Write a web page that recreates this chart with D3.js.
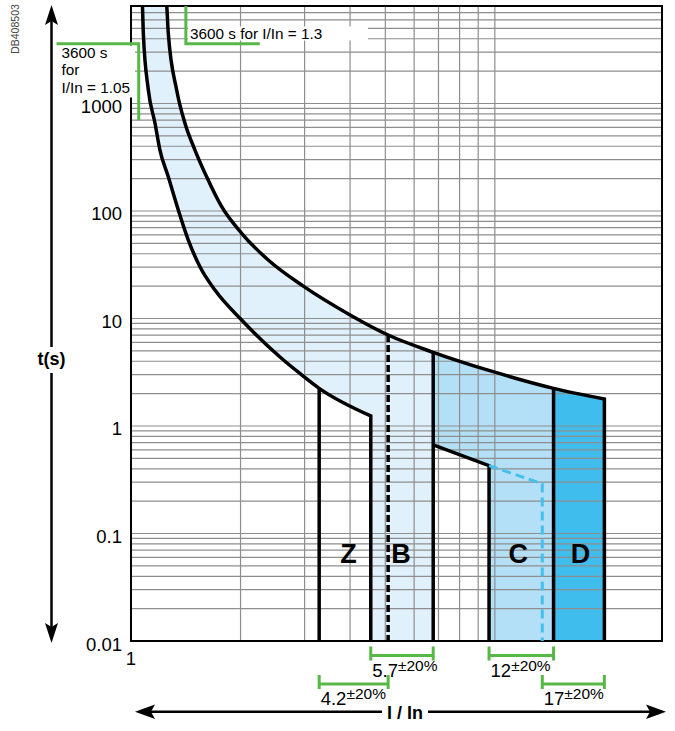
<!DOCTYPE html>
<html><head><meta charset="utf-8">
<script src="https://cdn.jsdelivr.net/npm/d3@7"></script>
<style>
body{margin:0;background:#fff}
svg{display:block}
text{font-family:"Liberation Sans",Arial,Helvetica,sans-serif}
</style>
</head><body>
<svg id="c" width="675" height="731"></svg>
<script>
// ---------------- data ----------------
// thermal zone: upper and lower envelope, I/In vs t(s)
const upperI = [1.245, 1.254, 1.266, 1.335, 1.407, 1.499, 1.614, 1.775, 2.014, 2.383, 2.975, 4.0, 5.09, 6.77, 9.89, 14.5, 20.0];
const upperT = [10000, 8070, 4530, 1336, 655, 369, 208, 109.6, 62.0, 35.0, 20.0, 10.8, 7.02, 4.85, 3.20, 2.24, 1.78];
const lowerI = [1.073, 1.081, 1.116, 1.164, 1.201, 1.266, 1.349, 1.437, 1.547, 1.701, 2.014, 2.567, 2.912, 3.29, 4.56];
const lowerT = [10000, 4530, 1336, 655, 369, 208, 102, 53.7, 30.3, 18.4, 9.68, 4.385, 3.08, 2.24, 1.24];

// magnetic trip curves
const curveNames   = ["Z", "B", "C", "D"];
const curveNominal = ["4.2", "5.7", "12", "17"];
const curveLow     = [3.29, 4.56, 9.64, 13.5];
const curveHigh    = [5.09, 6.77, 14.5, 20.0];
const curveRow     = [2, 1, 1, 2];
const labelI       = [3.96, 5.52, 11.6, 17.2];
const labelT       = 0.066;
const tolerance    = "±20%";

// lower boundary of C zone and dashed D lower boundary
const cLowerI = [6.77, 9.64];
const cLowerT = [0.666, 0.428];
const dDashI  = [9.64, 13.5, 13.5];
const dDashT  = [0.428, 0.29, 0.01];

// axes
const yTickValues = [0.01, 0.1, 1, 10, 100, 1000];
const yTickLabels = ["0.01", "0.1", "1", "10", "100", "1000"];
const xTickValues = [1];
const xTickLabels = ["1"];
const xGridValues = [2, 3, 4, 5, 6, 7, 8, 9, 10];
const xDomain = [1, 28.8];
const yDomain = [0.01, 8070];

// annotations
const annotT = 3600;
const annotLeftI = 1.05, annotLeftEndT = 700;
const annotTopI = 1.415, annotTopEndI = 2.26;
const annotTopText = "3600 s for I/In = 1.3";
const annotLeftText = ["3600 s", "for", "I/In = 1.05"];

// ---------------- drawing ----------------
const svg = d3.select("#c");
svg.append("rect").attr("width", 675).attr("height", 731).attr("fill", "#fff");

const x = d3.scaleLog().domain(xDomain).range([131, 662]);
const y = d3.scaleLog().domain(yDomain).range([641, 6]);
const X0 = x.range()[0], X1 = x.range()[1];
const YB = y.range()[0], YT = y.range()[1];
const tTop = yDomain[1], tBot = yDomain[0];

const LIGHT = "#e1f1fc", MID = "#b3e0f7", DARK = "#3fbdec", BLUEDASH = "#45bfee";
const GREEN = "#58b847", GRID = "#8e8e8e";

const upper = upperI.map((v, i) => [v, upperT[i]]);
const lower = lowerI.map((v, i) => [v, lowerT[i]]);
const tOn = (arr, v) => arr.find(d => Math.abs(d[0] - v) < 1e-9)[1];

const line = d3.line().x(d => x(d[0])).y(d => y(d[1])).curve(d3.curveMonotoneX);
const lineS = d3.line().x(d => x(d[0])).y(d => y(d[1]));

const defs = svg.append("defs");
defs.append("clipPath").attr("id", "plot").append("rect")
  .attr("x", X0).attr("y", YT).attr("width", X1 - X0).attr("height", YB - YT);
const upEnd = upper[upper.length - 1], loEnd = lower[lower.length - 1];
defs.append("clipPath").attr("id", "underUpper").append("path")
  .attr("d", line(upper) + `L${x(upEnd[0])},${YB + 10}L${X0 - 10},${YB + 10}L${X0 - 10},${YT - 40}Z`);
defs.append("clipPath").attr("id", "aboveLower").append("path")
  .attr("d", line(lower) + `L${x(loEnd[0])},${YB + 10}L${X1 + 10},${YB + 10}L${X1 + 10},${YT - 40}Z`);

// fills
const fillG = svg.append("g").attr("clip-path", "url(#plot)");
fillG.append("g").attr("clip-path", "url(#underUpper)")
  .append("g").attr("clip-path", "url(#aboveLower)")
  .append("path").attr("fill", LIGHT)
  .attr("d", lineS([[xDomain[0], tTop], [curveHigh[1], tTop], [curveHigh[1], tBot], [xDomain[0], tBot]]) + "Z");
const underU = fillG.append("g").attr("clip-path", "url(#underUpper)");
underU.append("path").attr("fill", MID)
  .attr("d", lineS([[curveHigh[1], tTop], [curveHigh[2], tTop], [curveHigh[2], tBot], [cLowerI[1], tBot],
                    [cLowerI[1], cLowerT[1]], [cLowerI[0], cLowerT[0]]]) + "Z");
underU.append("path").attr("fill", DARK)
  .attr("d", lineS([[curveHigh[2], tTop], [curveHigh[3], tTop], [curveHigh[3], tBot], [curveHigh[2], tBot]]) + "Z");

// grid
const gridG = svg.append("g").attr("clip-path", "url(#plot)").attr("stroke", GRID).attr("stroke-width", 1.2);
gridG.selectAll("line.h").data(y.ticks()).join("line").attr("class", "h")
  .attr("x1", X0).attr("x2", X1).attr("y1", d => y(d)).attr("y2", d => y(d));
gridG.selectAll("line.v").data(xGridValues).join("line").attr("class", "v")
  .attr("x1", d => x(d)).attr("x2", d => x(d)).attr("y1", YT).attr("y2", YB);

// frame
svg.append("rect").attr("x", X0).attr("y", YT).attr("width", X1 - X0).attr("height", YB - YT)
  .attr("fill", "none").attr("stroke", "#000").attr("stroke-width", 2);

// white label boxes
svg.append("rect").attr("x", 188).attr("y", 26.5).attr("width", 180).attr("height", 14).attr("fill", "#fff");
svg.append("rect").attr("x", 57).attr("y", 45.5).attr("width", 78).attr("height", 52).attr("fill", "#fff");

// curves
const curveG = svg.append("g").attr("clip-path", "url(#plot)").attr("fill", "none")
  .attr("stroke", "#000").attr("stroke-width", 3.5).attr("stroke-linejoin", "miter");
curveG.append("path").attr("d", line(upper) + `L${x(upEnd[0])},${y(tBot)}`);
curveG.append("path").attr("d", line(lower) + `L${x(loEnd[0])},${y(tBot)}`);
const vlines = [
  { i: curveLow[0],  t: tOn(lower, curveLow[0]) },
  { i: curveHigh[0], t: tOn(upper, curveHigh[0]), dash: "7,3" },
  { i: curveHigh[1], t: tOn(upper, curveHigh[1]) },
  { i: curveHigh[2], t: tOn(upper, curveHigh[2]) }
];
curveG.selectAll("line.vl").data(vlines).join("line").attr("class", "vl")
  .attr("x1", d => x(d.i)).attr("x2", d => x(d.i)).attr("y1", d => y(d.t)).attr("y2", y(tBot))
  .attr("stroke-dasharray", d => d.dash || null);
curveG.append("path").attr("d", lineS(cLowerI.map((v, i) => [v, cLowerT[i]])) + `L${x(cLowerI[1])},${y(tBot)}`);
curveG.append("path").attr("d", lineS(dDashI.map((v, i) => [v, dDashT[i]])))
  .attr("stroke", BLUEDASH).attr("stroke-width", 3).attr("stroke-dasharray", "9,5");

// zone letters
svg.append("g").selectAll("text").data(curveNames).join("text")
  .attr("x", (d, i) => x(labelI[i])).attr("y", y(labelT)).attr("dy", "0.36em")
  .attr("text-anchor", "middle").attr("font-weight", "bold").attr("font-size", 27).text(d => d);

// annotations (green)
const annG = svg.append("g").attr("fill", "none").attr("stroke", GREEN).attr("stroke-width", 3);
annG.append("path").attr("d", `M56.5,${y(annotT)}L${x(annotLeftI)},${y(annotT)}L${x(annotLeftI)},${y(annotLeftEndT)}`);
annG.append("path").attr("d", `M${x(annotTopI)},${YT}L${x(annotTopI)},${y(annotT)}L${x(annotTopEndI)},${y(annotT)}`);
svg.append("text").attr("x", 190).attr("y", 38.5).attr("font-size", 15.3).text(annotTopText);
svg.append("g").selectAll("text").data(annotLeftText).join("text")
  .attr("x", 61.5).attr("y", (d, i) => 58 + i * 17.3).attr("font-size", 15.3).text(d => d);

// y tick labels
svg.append("g").selectAll("text").data(yTickValues).join("text")
  .attr("x", 122).attr("y", d => y(d) + 9.5).attr("text-anchor", "end").attr("font-size", 18.5)
  .text((d, i) => yTickLabels[i]);
// x tick labels
svg.append("g").selectAll("text").data(xTickValues).join("text")
  .attr("x", d => x(d)).attr("y", 665).attr("text-anchor", "middle").attr("font-size", 18.5)
  .text((d, i) => xTickLabels[i]);

// tolerance brackets
const rowY = { 1: 655.5, 2: 684 };
const brG = svg.append("g");
curveNames.forEach((n, i) => {
  const xa = x(curveLow[i]), xb = x(curveHigh[i]), yy = rowY[curveRow[i]];
  brG.append("path").attr("fill", "none").attr("stroke", GREEN).attr("stroke-width", 3)
    .attr("d", `M${xa},${yy}H${xb}M${xa},${yy - 9}V${yy + 5}M${xb},${yy - 9}V${yy + 5}`);
  const t = brG.append("text").attr("x", xa + 1.5).attr("y", yy + 21).attr("font-size", 18.5);
  t.append("tspan").text(curveNominal[i]);
  t.append("tspan").attr("dy", -6).attr("font-size", 15.5).text(tolerance);
});

// axis arrows
const arrG = svg.append("g");
arrG.append("line").attr("x1", 51.5).attr("x2", 51.5).attr("y1", 15).attr("y2", 633)
  .attr("stroke", "#000").attr("stroke-width", 2.5);
arrG.append("path").attr("fill", "#000").attr("d", "M51.5,5L45,25L51.5,21L58,25Z");
arrG.append("path").attr("fill", "#000").attr("d", "M51.5,643L45,623L51.5,627L58,623Z");
arrG.append("line").attr("x1", 145).attr("x2", 656).attr("y1", 711.7).attr("y2", 711.7)
  .attr("stroke", "#000").attr("stroke-width", 2.5);
arrG.append("path").attr("fill", "#000").attr("d", "M135,711.7L155,704.5L151,711.7L155,719Z");
arrG.append("path").attr("fill", "#000").attr("d", "M666,711.7L646,704.5L650,711.7L646,719Z");

// axis titles with white gaps
svg.append("rect").attr("x", 36).attr("y", 347).attr("width", 31).attr("height", 26).attr("fill", "#fff");
svg.append("text").attr("x", 51.5).attr("y", 365).attr("text-anchor", "middle")
  .attr("font-weight", "bold").attr("font-size", 18).text("t(s)");
svg.append("rect").attr("x", 382).attr("y", 700).attr("width", 46).attr("height", 31).attr("fill", "#fff");
svg.append("text").attr("x", 405).attr("y", 718.5).attr("text-anchor", "middle")
  .attr("font-weight", "bold").attr("font-size", 18).text("I / In");

// reference code
svg.append("text").attr("transform", "translate(15,29) rotate(-90)").attr("text-anchor", "middle")
  .attr("dy", "0.35em").attr("font-size", 10.5).attr("fill", "#444").text("DB408503");
</script>
</body></html>
